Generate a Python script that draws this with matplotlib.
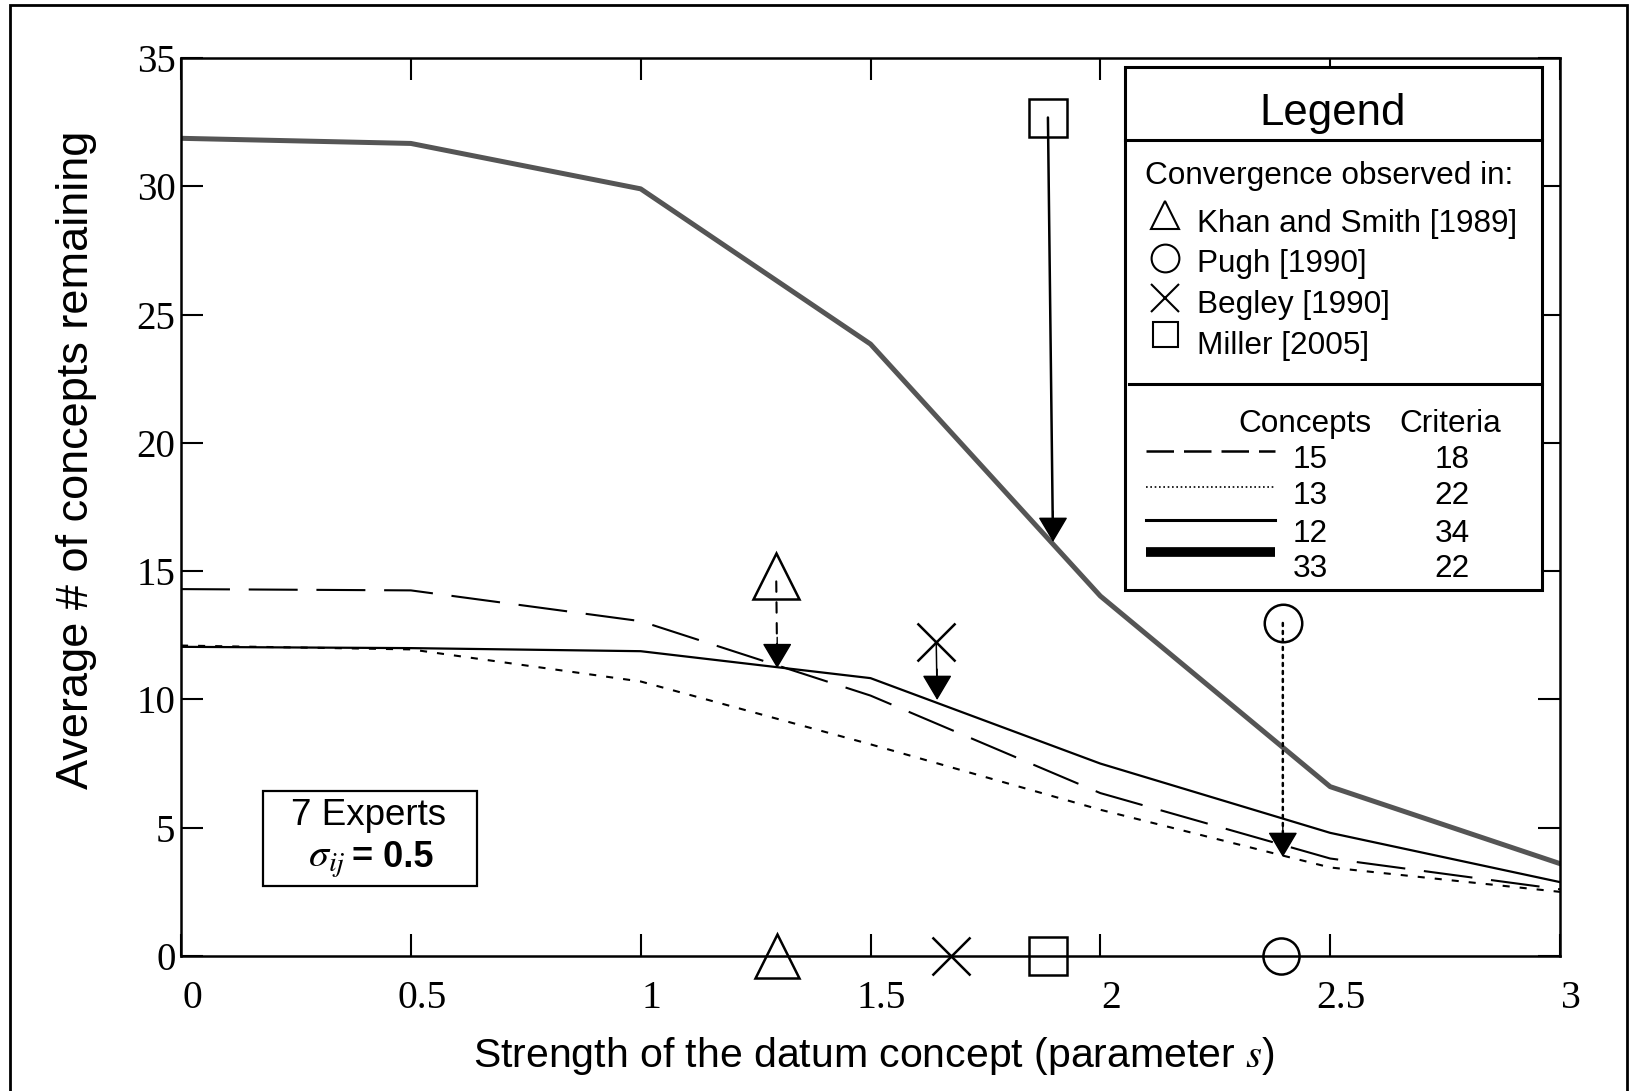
import numpy as np
import matplotlib.pyplot as plt
import matplotlib.transforms as mtransforms
from matplotlib.lines import Line2D
from matplotlib.patches import Rectangle

plt.rcParams['font.family'] = ['Liberation Sans', 'DejaVu Sans']
plt.rcParams['mathtext.fontset'] = 'stix'

# data
s = [0, 0.5, 1, 1.5, 2, 2.5, 3]
c15_r18 = [14.3, 14.25, 13.05, 10.15, 6.35, 3.8, 2.6]
c13_r22 = [12.1, 11.95, 10.7, 8.25, 5.7, 3.45, 2.5]
c12_r34 = [12.05, 12.0, 11.88, 10.83, 7.5, 4.8, 2.88]
c33_r22 = [31.87, 31.67, 29.9, 23.85, 14.03, 6.6, 3.6]

refs = ['Khan and Smith [1989]', 'Pugh [1990]', 'Begley [1990]', 'Miller [2005]']
ref_markers = ['^', 'o', 'x', 's']
ref_s_axis = [1.297, 2.393, 1.675, 1.886]
ref_s = [1.295, 2.397, 1.643, 1.886]
ref_y = [14.8, 12.98, 12.24, 32.68]
arrow_start = [14.6, 12.98, 12.24, 32.68]
tip_s = [1.297, 2.397, 1.645, 1.897]
tip_y = [11.22, 3.86, 9.98, 16.14]

concepts = ['15', '13', '12', '33']
criteria = ['18', '22', '34', '22']

xticks = [0, 0.5, 1, 1.5, 2, 2.5, 3]
xticklabels = ['0', '0.5', '1', '1.5', '2', '2.5', '3']
yticks = [0, 5, 10, 15, 20, 25, 30, 35]
yticklabels = ['0', '5', '10', '15', '20', '25', '30', '35']

W, H = 1629, 1091
fig = plt.figure(figsize=(W / 100, H / 100), dpi=100)


def fx(px):
    return px / W


def fy(py):
    return 1 - py / H


ax = fig.add_axes([fx(181), fy(956), fx(1560) - fx(181), fy(58) - fy(956)])

styles = [
    dict(color='k', lw=1.5, ls=(0, (23.5, 9))),
    dict(color='k', lw=1.5, ls=(0, (3.4, 4.8))),
    dict(color='k', lw=1.6, ls='-'),
    dict(color='#555555', lw=3.6, ls='-'),
]
for ys, st in zip([c15_r18, c13_r22, c12_r34, c33_r22], styles):
    ax.plot(s, ys, **st)

ax.set_xlim(0, 3)
ax.set_ylim(0, 35)

# markers on the s axis and above the curves
axis_ms = [31, 26, 27, 27]
top_ms = [33, 27, 27, 27]
for i in range(4):
    ax.plot(ref_s_axis[i], 0, ref_markers[i], ms=axis_ms[i], mfc='none',
            mec='k', mew=1.8, clip_on=False, zorder=5)
    ax.plot(ref_s[i], ref_y[i], ref_markers[i], ms=top_ms[i], mfc='none',
            mec='k', mew=1.8, zorder=5)

# arrows from the convergence markers down to the curves
arrow_ls = [(0, (5, 5)), (0, (1.2, 2)), '-', '-']
arrow_lw = [1.5, 1.8, 1.1, 1.8]
for i in range(4):
    ax.annotate('', xy=(tip_s[i], tip_y[i]), xytext=(ref_s[i], arrow_start[i]),
                arrowprops=dict(arrowstyle='-', lw=arrow_lw[i], ls=arrow_ls[i],
                                color='k', shrinkA=0, shrinkB=12),
                zorder=6)
    ax.annotate('', xy=(tip_s[i], tip_y[i]), xytext=(tip_s[i], tip_y[i] + 1.2),
                arrowprops=dict(arrowstyle='-|>,head_length=16,head_width=9.5',
                                mutation_scale=1, lw=1, color='k', fc='k',
                                shrinkA=0, shrinkB=0),
                zorder=6)

ax.set_xticks(xticks, labels=xticklabels, fontfamily='Liberation Serif', fontsize=28.5)
ax.set_yticks(yticks, labels=yticklabels, fontfamily='Liberation Serif', fontsize=28)
ax.tick_params(direction='in', length=15.8, width=1.5, top=True, right=True)
ax.tick_params(axis='x', pad=17)
ax.tick_params(axis='y', pad=4)
offset = mtransforms.ScaledTranslation(11 / 100, 0, fig.dpi_scale_trans)
for lbl in ax.get_xticklabels():
    lbl.set_transform(lbl.get_transform() + offset)
for sp in ax.spines.values():
    sp.set_linewidth(1.8)

fig.text(fx(874), fy(1067), 'Strength of the datum concept (parameter $s$)',
         ha='center', va='baseline', fontsize=29.5)
fig.text(fx(88), fy(460), 'Average # of concepts remaining', rotation=90,
         rotation_mode='anchor', ha='center', va='baseline', fontsize=32.5)

# legend box
fig.add_artist(Rectangle((fx(1125), fy(590)), fx(1542) - fx(1125), fy(67) - fy(590),
                         transform=fig.transFigure, fc='white', ec='k', lw=2.2, zorder=5))
fig.add_artist(Line2D([fx(1125), fx(1542)], [fy(140)] * 2, transform=fig.transFigure,
                      color='k', lw=2.2, zorder=6))
fig.add_artist(Line2D([fx(1129), fx(1542)], [fy(384)] * 2, transform=fig.transFigure,
                      color='k', lw=2.2, zorder=6))
fig.text(fx(1333), fy(125), 'Legend', ha='center', va='baseline', fontsize=31.5, zorder=7)
fig.text(fx(1145), fy(184), 'Convergence observed in:', ha='left', va='baseline',
         fontsize=22.7, zorder=7)

leg_marker_y = [215, 258, 298, 334]
leg_text_y = [232, 272, 313, 354]
leg_ms = [20, 20, 20, 18]
for i in range(4):
    fig.add_artist(Line2D([fx(1165)], [fy(leg_marker_y[i])], transform=fig.transFigure,
                          marker=ref_markers[i], ms=leg_ms[i], mfc='none', mec='k',
                          mew=1.5, ls='none', zorder=7))
    fig.text(fx(1197), fy(leg_text_y[i]), refs[i], ha='left', va='baseline',
             fontsize=22.7, zorder=7)

fig.text(fx(1305), fy(432), 'Concepts', ha='center', va='baseline', fontsize=22.7, zorder=7)
fig.text(fx(1450), fy(432), 'Criteria', ha='center', va='baseline', fontsize=22.7, zorder=7)

leg_line_y = [451, 487, 520, 552]
leg_num_y = [468, 504, 542, 577]
leg_styles = [
    dict(color='k', lw=1.8, ls=(0, (11, 4))),
    dict(color='k', lw=1.2, ls=(0, (1, 1.6))),
    dict(color='k', lw=2.2, ls='-'),
    dict(color='k', lw=7, ls='-', solid_capstyle='butt'),
]
for i in range(4):
    fig.add_artist(Line2D([fx(1146), fx(1275)], [fy(leg_line_y[i])] * 2,
                          transform=fig.transFigure, zorder=7, **leg_styles[i]))
    fig.text(fx(1310), fy(leg_num_y[i]), concepts[i], ha='center', va='baseline',
             fontsize=22.7, zorder=7)
    fig.text(fx(1452), fy(leg_num_y[i]), criteria[i], ha='center', va='baseline',
             fontsize=22.7, zorder=7)

# experts box
fig.add_artist(Rectangle((fx(263), fy(886)), fx(477) - fx(263), fy(791) - fy(886),
                         transform=fig.transFigure, fc='white', ec='k', lw=1.6, zorder=5))
fig.text(fx(369), fy(825), '7 Experts', ha='center', va='baseline', fontsize=26.5, zorder=7)
fig.text(fx(346), fy(867), r'$\sigma_{ij}$', ha='right', va='baseline', fontsize=29, zorder=7)
fig.text(fx(352), fy(867), '= 0.5', ha='left', va='baseline', fontsize=26,
         fontweight='bold', zorder=7)

# outer frame
fig.add_artist(Rectangle((fx(10), -0.05), fx(1627) - fx(10), fy(5) + 0.05,
                         transform=fig.transFigure, fill=False, ec='k', lw=2, zorder=8))

fig.savefig('out.png', dpi=100)
